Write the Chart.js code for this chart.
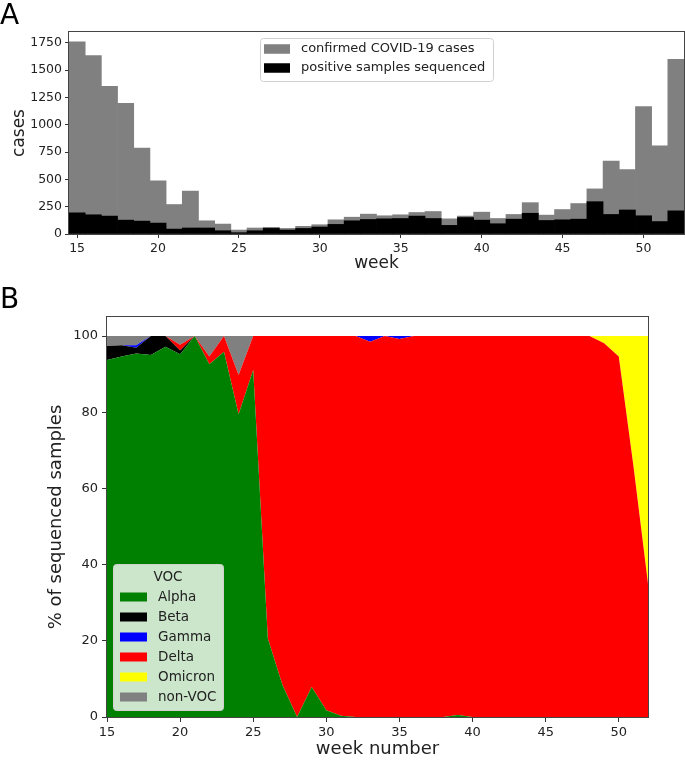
<!DOCTYPE html>
<html lang="en">
<head>
  <meta charset="UTF-8">
  <title>COVID-19 cases and VOC share by week</title>
  <script src="https://cdn.jsdelivr.net/npm/chart.js"></script>
  <style>
    body { margin: 0; background: #fff; }
    #wrap { position: relative; width: 685px; height: 761px; font-family: "DejaVu Sans", sans-serif; }
    #wrap canvas { position: absolute; left: 0; }
    .panel { position: absolute; left: 0; font-size: 28px; line-height: 28px; color: #000; }
  </style>
</head>
<body>
  <div id="wrap">
    <canvas id="casesChart" width="685" height="290" style="top:0"></canvas>
    <canvas id="vocChart" width="685" height="471" style="top:290px"></canvas>
    <div class="panel" style="top:1px">A</div>
    <div class="panel" style="top:285px">B</div>
  </div>

  <script>
    // weeks 15..52
    const weeks = [15, 16, 17, 18, 19, 20, 21, 22, 23, 24, 25, 26, 27, 28, 29, 30, 31, 32, 33,
                   34, 35, 36, 37, 38, 39, 40, 41, 42, 43, 44, 45, 46, 47, 48, 49, 50, 51, 52];

    // panel A
    const confirmed = [1760, 1635, 1353, 1196, 787, 487, 270, 393, 121, 91, 36, 55, 61, 51, 70, 85, 130, 154, 182,
                       167, 176, 197, 206, 139, 164, 200, 142, 179, 287, 173, 224, 279, 413, 668, 590, 1167, 808, 1600];
    const sequenced = [194, 176, 164, 127, 118, 100, 45, 55, 55, 30, 12, 30, 51, 36, 51, 64, 88, 121, 133,
                       139, 142, 164, 142, 79, 151, 127, 94, 136, 190, 124, 130, 136, 296, 179, 220, 167, 114, 212];
    const caseTicks = [0, 250, 500, 750, 1000, 1250, 1500, 1750];
    const weekTicks = [15, 20, 25, 30, 35, 40, 45, 50];

    // panel B, % of sequenced samples
    const alpha   = [93.7, 94.6, 95.4, 95.0, 97.2, 95.2, 100, 92.6, 95.9, 79.5, 91.1, 20.6, 8.4, 0, 7.9, 1.8, 0.3, 0, 0,
                     0, 0, 0, 0, 0, 0.5, 0, 0, 0, 0, 0, 0, 0, 0, 0, 0, 0, 0, 0];
    const beta    = [3.7, 3.0, 1.5, 5.0, 2.8, 1.0, 0, 0, 0, 0, 0, 0, 0, 0, 0, 0, 0, 0, 0,
                     0, 0, 0, 0, 0, 0, 0, 0, 0, 0, 0, 0, 0, 0, 0, 0, 0, 0, 0];
    const gamma   = [0, 0, 0.7, 0, 0, 0, 0, 0, 0, 0, 0, 0, 0, 0, 0, 0, 0, 0, 1.5,
                     0, 0.8, 0, 0, 0, 0, 0, 0, 0, 0, 0, 0, 0, 0, 0, 0, 0, 0, 0];
    const delta   = [0, 0, 0, 0, 0, 1.5, 0, 2.0, 4.1, 10.3, 8.9, 79.4, 91.6, 100, 92.1, 98.2, 99.7, 100, 98.5,
                     100, 99.2, 100, 100, 100, 99.5, 100, 100, 100, 100, 100, 100, 100, 100, 100, 98.1, 94.6, 66, 35];
    const omicron = [0, 0, 0, 0, 0, 0, 0, 0, 0, 0, 0, 0, 0, 0, 0, 0, 0, 0, 0,
                     0, 0, 0, 0, 0, 0, 0, 0, 0, 0, 0, 0, 0, 0, 0, 1.9, 5.4, 34, 65];
    const nonVoc  = [2.6, 2.4, 2.4, 0, 0, 2.3, 0, 5.4, 0, 10.2, 0, 0, 0, 0, 0, 0, 0, 0, 0,
                     0, 0, 0, 0, 0, 0, 0, 0, 0, 0, 0, 0, 0, 0, 0, 0, 0, 0, 0];

    // stack order bottom -> top, and the order the legend lists them
    const stackLabels  = ['Alpha', 'Beta', 'Delta', 'Gamma', 'Omicron', 'non-VOC'];
    const stackValues  = [alpha, beta, delta, gamma, omicron, nonVoc];
    const stackColors  = ['#008000', '#000000', '#ff0000', '#0000ff', '#ffff00', '#808080'];
    const legendLabels = ['Alpha', 'Beta', 'Gamma', 'Delta', 'Omicron', 'non-VOC'];
    const pctTicks = [0, 20, 40, 60, 80, 100];

    Chart.defaults.font.family = "'DejaVu Sans', sans-serif";
    Chart.defaults.color = '#222';

    const textColor = '#222';

    // matplotlib-like box around the plot + a framed legend inside it
    const frameAndLegend = {
      id: 'frameAndLegend',
      afterDraw(chart, args, opts) {
        const { ctx, chartArea: a } = chart;
        ctx.save();
        ctx.strokeStyle = '#444';
        ctx.lineWidth = 1;
        ctx.strokeRect(Math.round(a.left) - 0.5, Math.round(a.top) - 0.5,
                       Math.round(a.right - a.left) + 1, Math.round(a.bottom - a.top) + 1);

        const L = opts.box;
        ctx.beginPath();
        ctx.roundRect(L.x + 0.5, L.y + 0.5, L.w, L.h, 3);
        ctx.fillStyle = 'rgba(255,255,255,0.8)';
        ctx.fill();
        ctx.strokeStyle = '#d0d0d0';
        ctx.stroke();

        ctx.font = L.fontSize + "px 'DejaVu Sans', sans-serif";
        ctx.textBaseline = 'middle';
        if (L.title) {
          ctx.fillStyle = textColor;
          ctx.textAlign = 'center';
          ctx.fillText(L.title, L.x + L.w / 2, L.titleY);
        }
        ctx.textAlign = 'left';
        const datasets = chart.data.datasets;
        const items = L.order ? L.order.map(lbl => datasets.find(d => d.label === lbl)) : datasets;
        items.forEach((ds, i) => {
          const y = L.rowY + i * L.rowGap;
          ctx.fillStyle = ds.backgroundColor;
          ctx.fillRect(L.patchX, y - L.patchH / 2, L.patchW, L.patchH);
          ctx.fillStyle = textColor;
          ctx.fillText(ds.label, L.textX, y);
        });
        ctx.restore();
      }
    };

    // Panel A: overlaid bars
    new Chart(document.getElementById('casesChart'), {
      type: 'bar',
      data: {
        datasets: [
          {
            label: 'confirmed COVID-19 cases',
            data: weeks.map((w, i) => ({ x: w, y: confirmed[i] })),
            backgroundColor: '#808080',
            order: 2
          },
          {
            label: 'positive samples sequenced',
            data: weeks.map((w, i) => ({ x: w, y: sequenced[i] })),
            backgroundColor: '#000000',
            order: 1
          }
        ]
      },
      options: {
        responsive: false,
        animation: false,
        grouped: false,
        barPercentage: 1,
        categoryPercentage: 1,
        layout: { padding: { top: 32, right: 1, left: 0, bottom: 0 } },
        plugins: {
          legend: { display: false },
          tooltip: { enabled: false },
          frameAndLegend: {
            box: { x: 260, y: 38, w: 233, h: 43, fontSize: 13, rowY: 49, rowGap: 19,
                   patchX: 264, patchW: 26, patchH: 9.5, textX: 301 }
          }
        },
        scales: {
          x: {
            type: 'linear',
            min: 14.5,
            max: 52.5,
            offset: false,
            afterBuildTicks: s => { s.ticks = weekTicks.map(v => ({ value: v })); },
            afterFit: s => { s.height = 56; },
            grid: { drawOnChartArea: false, offset: false, tickLength: 4, color: '#333' },
            border: { display: false },
            ticks: { font: { size: 12.5 }, padding: 3, maxRotation: 0, callback: v => String(v) },
            title: { display: true, text: 'week', font: { size: 17 }, padding: { top: 0, bottom: 16 } }
          },
          y: {
            min: 0,
            max: 1850,
            afterBuildTicks: s => { s.ticks = caseTicks.map(v => ({ value: v })); },
            afterFit: s => { s.width = 69; },
            grid: { drawOnChartArea: false, tickLength: 4, color: '#333' },
            border: { display: false },
            ticks: { font: { size: 12.5 }, padding: 3, callback: v => String(v) },
            title: { display: true, text: 'cases', font: { size: 17 }, padding: { top: 9, bottom: 0 } }
          }
        }
      },
      plugins: [frameAndLegend]
    });

    // Panel B: stacked areas
    new Chart(document.getElementById('vocChart'), {
      type: 'line',
      data: {
        datasets: stackValues.map((vals, i) => ({
          label: stackLabels[i],
          data: weeks.map((w, j) => ({ x: w, y: vals[j] })),
          backgroundColor: stackColors[i],
          borderColor: 'transparent',
          borderWidth: 0,
          pointRadius: 0,
          tension: 0,
          fill: i === 0 ? 'origin' : '-1'
        }))
      },
      options: {
        responsive: false,
        animation: false,
        layout: { padding: { top: 27, right: 37, left: 0, bottom: 0 } },
        plugins: {
          legend: { display: false },
          tooltip: { enabled: false },
          frameAndLegend: {
            box: { x: 113, y: 274, w: 110, h: 146, fontSize: 13.5, title: 'VOC', titleY: 287,
                   rowY: 307, rowGap: 20, patchX: 120, patchW: 27, patchH: 9, textX: 158,
                   order: legendLabels }
          }
        },
        scales: {
          x: {
            type: 'linear',
            min: 15,
            max: 52,
            afterBuildTicks: s => { s.ticks = weekTicks.map(v => ({ value: v })); },
            afterFit: s => { s.height = 44; },
            grid: { drawOnChartArea: false, tickLength: 5, color: '#333' },
            border: { display: false },
            ticks: { font: { size: 13 }, padding: 3, maxRotation: 0, callback: v => String(v) },
            title: { display: true, text: 'week number', font: { size: 18 }, padding: { top: 0, bottom: 1 } }
          },
          y: {
            stacked: true,
            min: 0,
            max: 105,
            afterBuildTicks: s => { s.ticks = pctTicks.map(v => ({ value: v })); },
            afterFit: s => { s.width = 107; },
            grid: { drawOnChartArea: false, tickLength: 5, color: '#333' },
            border: { display: false },
            ticks: { font: { size: 13 }, padding: 4, callback: v => String(v) },
            title: { display: true, text: '% of sequenced samples', font: { size: 18 }, padding: { top: 46, bottom: 0 } }
          }
        }
      },
      plugins: [frameAndLegend]
    });
  </script>
</body>
</html>
